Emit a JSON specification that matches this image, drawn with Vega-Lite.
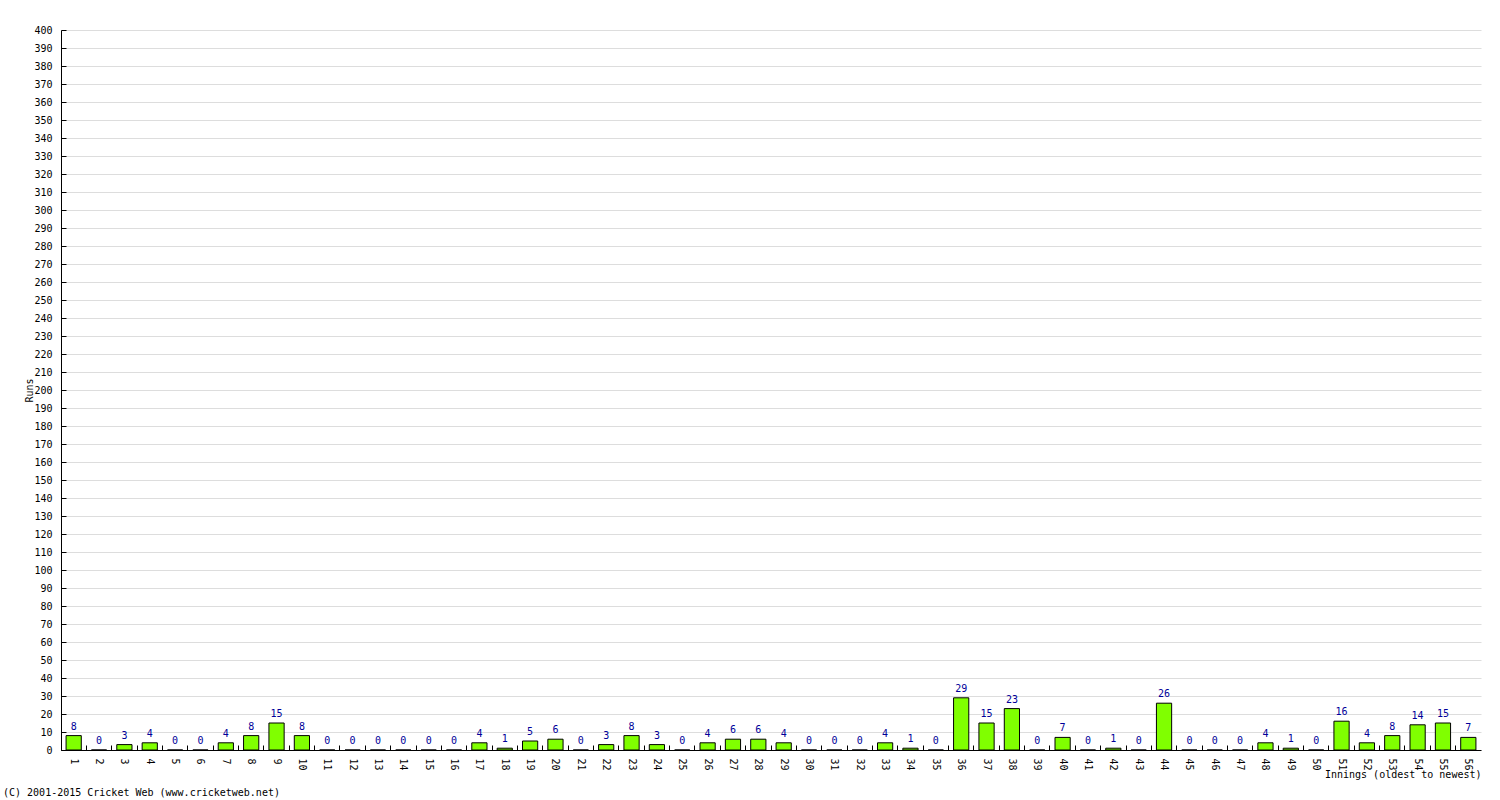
{
  "$schema": "https://vega.github.io/schema/vega-lite/v6.json",
  "width": 1420,
  "height": 720,
  "autosize": {"type": "none"},
  "padding": {"left": 61, "top": 30, "right": 19, "bottom": 50},
  "background": "white",
  "config": {
    "view": {"stroke": null},
    "font": "DejaVu Sans Mono",
    "axis": {"labelFont": "DejaVu Sans Mono", "titleFont": "DejaVu Sans Mono", "labelColor": "black", "titleColor": "black", "domainColor": "black", "tickColor": "black"}
  },
  "title": {
    "text": "(C) 2001-2015 Cricket Web (www.cricketweb.net)",
    "orient": "bottom",
    "anchor": "start",
    "frame": "group",
    "font": "DejaVu Sans Mono",
    "fontSize": 10,
    "fontWeight": "normal",
    "color": "black",
    "dx": -58,
    "offset": 9
  },
  "data": {
    "values": [
      {"inning": 1, "runs": 8}, {"inning": 2, "runs": 0}, {"inning": 3, "runs": 3}, {"inning": 4, "runs": 4},
      {"inning": 5, "runs": 0}, {"inning": 6, "runs": 0}, {"inning": 7, "runs": 4}, {"inning": 8, "runs": 8},
      {"inning": 9, "runs": 15}, {"inning": 10, "runs": 8}, {"inning": 11, "runs": 0}, {"inning": 12, "runs": 0},
      {"inning": 13, "runs": 0}, {"inning": 14, "runs": 0}, {"inning": 15, "runs": 0}, {"inning": 16, "runs": 0},
      {"inning": 17, "runs": 4}, {"inning": 18, "runs": 1}, {"inning": 19, "runs": 5}, {"inning": 20, "runs": 6},
      {"inning": 21, "runs": 0}, {"inning": 22, "runs": 3}, {"inning": 23, "runs": 8}, {"inning": 24, "runs": 3},
      {"inning": 25, "runs": 0}, {"inning": 26, "runs": 4}, {"inning": 27, "runs": 6}, {"inning": 28, "runs": 6},
      {"inning": 29, "runs": 4}, {"inning": 30, "runs": 0}, {"inning": 31, "runs": 0}, {"inning": 32, "runs": 0},
      {"inning": 33, "runs": 4}, {"inning": 34, "runs": 1}, {"inning": 35, "runs": 0}, {"inning": 36, "runs": 29},
      {"inning": 37, "runs": 15}, {"inning": 38, "runs": 23}, {"inning": 39, "runs": 0}, {"inning": 40, "runs": 7},
      {"inning": 41, "runs": 0}, {"inning": 42, "runs": 1}, {"inning": 43, "runs": 0}, {"inning": 44, "runs": 26},
      {"inning": 45, "runs": 0}, {"inning": 46, "runs": 0}, {"inning": 47, "runs": 0}, {"inning": 48, "runs": 4},
      {"inning": 49, "runs": 1}, {"inning": 50, "runs": 0}, {"inning": 51, "runs": 16}, {"inning": 52, "runs": 4},
      {"inning": 53, "runs": 8}, {"inning": 54, "runs": 14}, {"inning": 55, "runs": 15}, {"inning": 56, "runs": 7}
    ]
  },
  "encoding": {
    "x": {
      "field": "inning", "type": "ordinal",
      "scale": {"paddingInner": 0.4, "paddingOuter": 0.2},
      "axis": {
        "title": "Innings (oldest to newest)",
        "titleAnchor": "end", "titleAlign": "right", "titleBaseline": "alphabetic",
        "titleX": 1420, "titleY": 27, "titleFontSize": 10, "titleFontWeight": "normal",
        "labelAngle": 90, "labelFontSize": 10, "labelPadding": 13,
        "ticks": true, "tickSize": -5, "bandPosition": -0.3333, "grid": false, "domainWidth": 1
      }
    },
    "y": {
      "field": "runs", "type": "quantitative",
      "scale": {"domain": [0, 400], "nice": false},
      "axis": {
        "title": "Runs", "titleFontSize": 10, "titleFontWeight": "normal", "titlePadding": -1,
        "values": [0,10,20,30,40,50,60,70,80,90,100,110,120,130,140,150,160,170,180,190,200,210,220,230,240,250,260,270,280,290,300,310,320,330,340,350,360,370,380,390,400],
        "tickCount": 100,
        "labelOverlap": false, "labelBound": false,
        "labelFontSize": 10, "labelPadding": 14, "tickSize": -5,
        "grid": true, "gridColor": "#dddddd", "gridWidth": 1
      }
    }
  },
  "layer": [
    {
      "mark": {"type": "bar", "color": "#80ff00", "stroke": "black", "strokeWidth": 1}
    },
    {
      "mark": {"type": "text", "dy": -4, "baseline": "bottom", "color": "#000099", "fontSize": 10, "font": "DejaVu Sans Mono"},
      "encoding": {
        "text": {"field": "runs", "type": "quantitative"}
      }
    }
  ]
}
